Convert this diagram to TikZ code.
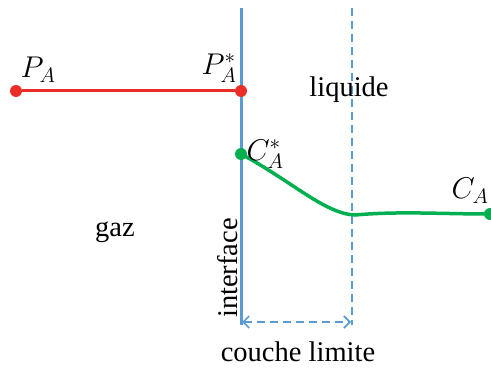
\RequirePackage{fix-cm}
\documentclass[tikz,border=0pt]{standalone}
\usepackage{fontspec}
\setmainfont{Liberation Serif}
\usetikzlibrary{arrows.meta, positioning}
\definecolor{ifblue}{RGB}{91,155,213}
\definecolor{gasred}{RGB}{235,45,40}
\definecolor{liqgreen}{RGB}{0,176,80}

\begin{document}
\begin{tikzpicture}[
  x=1pt, y=-1pt,
  txt/.style     = {inner sep=0pt, font=\fontsize{28.5}{34}\selectfont},
  mlab/.style    = {inner sep=0pt, font=\fontsize{30}{36}\selectfont},
  dot/.style     = {circle, inner sep=0pt, minimum size=12pt},
  redline/.style = {gasred, line width=3pt},
  grnline/.style = {liqgreen, line width=3.5pt},
  wall/.style    = {ifblue, line width=3pt},
  limit/.style   = {ifblue, line width=1.6pt, dash pattern=on 8pt off 5pt},
  arr/.style     = {arrows={Straight Barb[length=6pt, width=12pt]-Straight Barb[length=6pt, width=12pt]},
                    ifblue, line width=1.6pt, dash pattern=on 8pt off 5pt}
]
  \useasboundingbox (0,0) rectangle (491,369);

  %% Interface and boundary layer
  \coordinate (itop) at (241,8);
  \coordinate (ibot) at (241,325);
  \coordinate (ltop) at (352,8);
  \coordinate (lbot) at (352,325);
  \draw[wall]  (itop) -- (ibot);
  \draw[limit] (ltop) -- (lbot);

  %% Gas side
  \node[dot, fill=gasred] (pa)  at (16,91)  {};
  \node[dot, fill=gasred] (pas) at (241,91) {};
  \draw[redline] (pa) -- (pas);
  \node[mlab] (pal)  at (38,70)  {$P_A$};
  \node[mlab] (pasl) at (219,68) {$P_A^*$};

  %% Liquid side
  \node[dot, fill=liqgreen] (cas) at (241,154) {};
  \node[dot, fill=liqgreen] (ca)  at (490,214) {};
  \coordinate (knee) at (355,215);
  \draw[grnline] (cas.center) .. controls (290,180) and (325,214) .. (knee)
                 .. controls (400,211) and (440,214) .. (ca.center);
  \node[mlab] (casl) at (265,154) {$C_A^*$};
  \node[mlab] (cal)  at (470,191) {$C_A$};

  %% Texts
  \node[txt] (gaz)  at (115,232) {gaz};
  \node[txt] (liq)  at (349,90)  {liquide};
  \node[txt, rotate=90] (intf) at (228,268) {interface};

  %% Boundary layer thickness
  \coordinate (a1) at (242,322);
  \coordinate (a2) at (351,322);
  \draw[arr] (a1) -- (a2);
  \node[txt] (couche) at (298,352) {couche limite};
\end{tikzpicture}
\end{document}
